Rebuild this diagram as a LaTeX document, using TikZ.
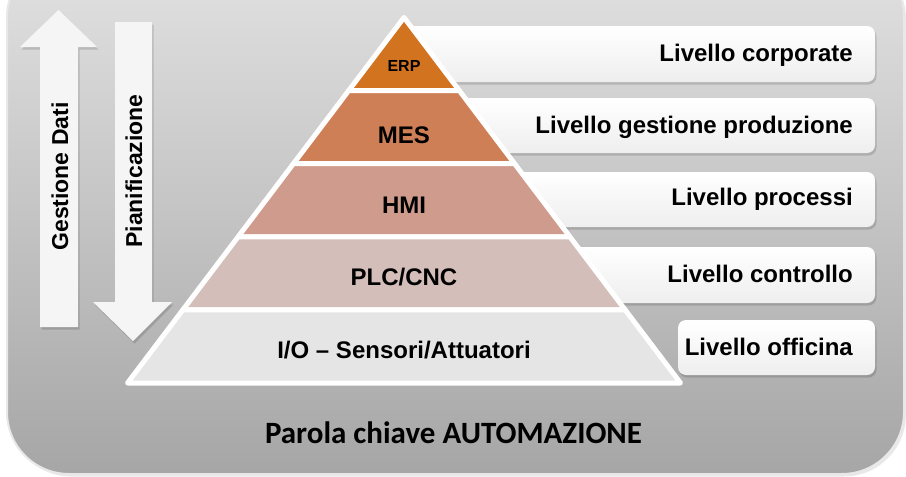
\documentclass[tikz,border=0pt]{standalone}
\usepackage{fontspec}
\setmainfont{Liberation Sans}
\newfontfamily\keyfont{Carlito}
\usepackage{tikz}
\definecolor{erp}{RGB}{210, 115, 32}
\definecolor{mes}{RGB}{207, 127, 85}
\definecolor{hmi}{RGB}{206, 155, 140}
\definecolor{plc}{RGB}{212, 190, 186}
\definecolor{iolev}{RGB}{229, 229, 229}
\definecolor{bgtop}{RGB}{226, 226, 226}
\definecolor{bgbot}{RGB}{166, 166, 166}
\definecolor{bgedge}{RGB}{232, 232, 232}
\definecolor{boxbot}{RGB}{238, 238, 238}
\definecolor{arrowfill}{RGB}{245, 245, 245}

\begin{document}
\begin{tikzpicture}[x=1pt, y=-1pt,
    layer/.style={draw=white, line width=5pt, line join=round},
    lvl/.style={font=\bfseries\fontsize{24}{28}\selectfont, anchor=base, inner sep=0pt},
    levelbox/.style={rounded corners=8pt, top color=white, bottom color=boxbot},
    boxshadow/.style={rounded corners=8pt, fill=black, opacity=0.14},
    boxtxt/.style={font=\bfseries\fontsize{24}{28}\selectfont, anchor=base east, inner sep=0pt},
    sidetxt/.style={font=\bfseries\fontsize{23}{27}\selectfont, rotate=90, inner sep=0pt},
    bigarrow/.style={fill=arrowfill, draw=none},
    arrowshadow/.style={fill=black, opacity=0.14}]

  \useasboundingbox (0, 0) rectangle (906, 477);
  \clip (0, 0) rectangle (906, 477);

  % background panel
  \fill[rounded corners=62pt, gray!50, opacity=0.35] (9, -43) rectangle (906, 476.5);
  \draw[rounded corners=62pt, top color=bgtop, bottom color=bgbot, draw=bgedge, line width=2pt]
    (7, -45) rectangle (904, 474);

  % level boxes on the right
  \foreach \ya/\yb/\xl in {26/82/400, 98/153/400, 172/227/400, 247/303/400, 320/375/678} {
    \fill[boxshadow] (\xl+1, \ya+2.5) rectangle (876.5, \yb+2.5);
    \draw[levelbox, draw=none] (\xl, \ya) rectangle (875, \yb);
  }

  % pyramid
  \foreach \i/\col in {0/erp, 1/mes, 2/hmi, 3/plc, 4/iolev} {
    \pgfmathsetmacro\ya{17.5 + 73.1 * \i}
    \pgfmathsetmacro\yb{17.5 + 73.1 * (\i + 1)}
    \pgfmathsetmacro\wa{0.7565 * (\ya - 17.5)}
    \pgfmathsetmacro\wb{0.7565 * (\yb - 17.5)}
    \draw[layer, fill=\col] (404 - \wa, \ya) -- (404 + \wa, \ya) -- (404 + \wb, \yb) -- (404 - \wb, \yb) -- cycle;
  }

  \node[lvl, font=\bfseries\fontsize{16}{19}\selectfont] (erp) at (404, 71) {ERP};
  \node[lvl] (mes) at (404, 143) {MES};
  \node[lvl] (hmi) at (404, 213) {HMI};
  \node[lvl] (plc) at (404, 285) {PLC/CNC};
  \node[lvl] (io) at (404, 358) {I/O -- Sensori/Attuatori};

  \node[boxtxt] (corp) at (853, 61) {Livello corporate};
  \node[boxtxt] (gest) at (853, 133) {Livello gestione produzione};
  \node[boxtxt] (proc) at (853, 205) {Livello processi};
  \node[boxtxt] (ctrl) at (853, 282) {Livello controllo};
  \node[boxtxt] (shop) at (853, 355) {Livello officina};

  % arrows on the left
  \fill[arrowshadow] (41.5, 329.5) -- (41.5, 49.5) -- (21.5, 49.5) -- (60, 12.5) -- (98.5, 49.5) -- (79.5, 49.5) -- (79.5, 329.5) -- cycle;
  \fill[bigarrow] (40, 327) -- (40, 47) -- (20, 47) -- (58.5, 10) -- (97, 47) -- (78, 47) -- (78, 327) -- cycle;
  \fill[arrowshadow] (116.5, 24.5) -- (153.5, 24.5) -- (153.5, 304.5) -- (173.5, 304.5) -- (134.5, 343.5) -- (94.5, 304.5) -- (116.5, 304.5) -- cycle;
  \fill[bigarrow] (115, 22) -- (152, 22) -- (152, 302) -- (172, 302) -- (133, 341) -- (93, 302) -- (115, 302) -- cycle;

  \node[sidetxt] (gdati) at (60, 176.5) {Gestione Dati};
  \node[sidetxt] (pian) at (134, 171) {Pianificazione};

  \node[font=\keyfont\bfseries\fontsize{31}{36}\selectfont, anchor=base, inner sep=0pt] (key) at (453.5, 443) {Parola chiave AUTOMAZIONE};
\end{tikzpicture}
\end{document}
